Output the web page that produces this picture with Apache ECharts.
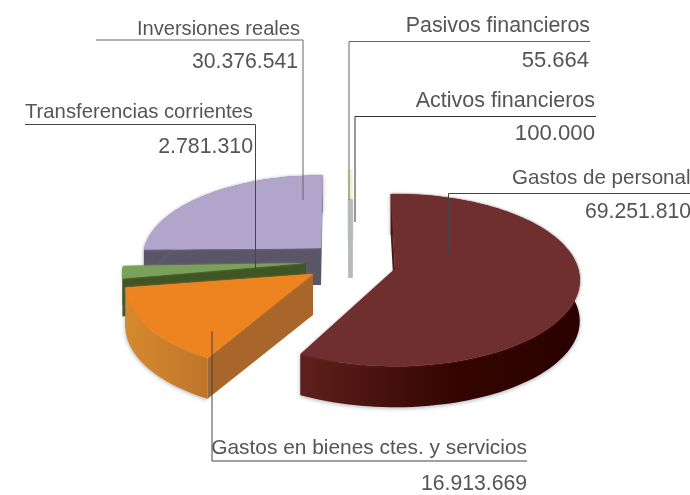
<!DOCTYPE html>
<html><head><meta charset="utf-8">
<style>html,body{margin:0;padding:0;background:#fff}#c{width:690px;height:495px}</style>
<script src="https://cdn.jsdelivr.net/npm/echarts@6/dist/echarts.min.js"></script>
</head><body><div id="c"></div>
<script>
const categories = ['Gastos de personal','Gastos en bienes ctes. y servicios','Transferencias corrientes','Inversiones reales','Pasivos financieros','Activos financieros'];
const values = [69251810,16913669,2781310,30376541,55664,100000];

// drawing layout, per slice (apex position of the exploded slice, etc.)
const RX = 186, A = 86, K = 0.131;
const sliceLayout = [
  {cx:395,cy:269,s:0.985,d:41,rot:-1.5,z:60,top:'#6f2f2e',cut:'#4a1512',side:[[0,'#5e201c'],[0.55,'#340500'],[1,'#2a0200']],sx:[302,580],blur:'#6f2f2e'},
  {cx:313,cy:274,s:1,d:41,rot:1.5,z:50,top:'#ed8420',cut:'#a9662a',side:[[0,'#d5892e'],[1,'#bd7429']],sx:[128,214],blur:'#ed8420'},
  {cx:306,cy:263,s:0.98,d:38,rot:0,z:40,top:'#7ba05a',cut:'#3f5523',side:[[0,'#3f5523'],[1,'#3f5523']],sx:[120,130],blur:'#7ba05a'},
  {cx:321,cy:248,s:0.95,d:37,rot:1,z:10,top:'#b2a5cb',cut:'#5a5668',side:[[0,'#5a5668'],[1,'#5a5668']],sx:[140,325],blur:'#b2a5cb'},
  {cx:351,cy:245,s:0.96,d:0,rot:0,z:20,top:'#f1f1d0',cut:'#f1f1d0',side:[[0,'#f1f1d0'],[1,'#f1f1d0']],sx:[345,355],thin:4,blur:'#f1f1d0'},
  {cx:350.5,cy:240,s:0.48,d:38,rot:0,z:25,top:'#b4bcb8',cut:'#b4bcb8',side:[[0,'#b4bcb8'],[1,'#b4bcb8']],sx:[345,355],thin:4,blur:'#b4bcb8'}
];
// leader lines and label anchors: [x, y, align, font size]
const leaders = [
  {pts:[[690,193.5],[448.5,193.5],[448.5,253]],name:[512,178,'left',20.6],val:[585,212,'left',21.2],c:'#444'},
  {pts:[[527,461],[212,461],[212,331]],name:[527,448,'right',20.9],val:[527,484,'right',21.2],c:'#444'},
  {pts:[[25,124.5],[255.5,124.5],[255.5,269]],name:[253,112,'right',20.3],val:[253,147,'right',21.3],c:'#444'},
  {pts:[[96,40],[303,40],[303,200]],name:[300,29,'right',20.1],val:[298,62,'right',21.2],c:'#666'},
  {pts:[[590,41.5],[349,41.5],[349,200]],name:[590,26,'right',21.4],val:[589,61,'right',22],c:'#666'},
  {pts:[[596,116.5],[355,116.5],[355,222]],name:[595,101,'right',21.5],val:[595,134,'right',22.2],c:'#333'}
];
const fmt = v => String(v).replace(/\B(?=(\d{3})+$)/g,'.');
const total = values.reduce((a,b)=>a+b,0);
const starts = []; values.reduce((acc,v,i)=>{starts[i]=acc;return acc+v;},0);

function project(L,deg,r){
  const t=(deg+L.rot)*Math.PI/180, u=r*L.s*Math.sin(t), v=-r*L.s*Math.cos(t), den=1-K*v;
  return [L.cx+u*RX/den, L.cy+v*A/den];
}
function renderSlice(params,api){
  const i=params.dataIndex, L=sliceLayout[i];
  const a0=api.value(1)/total*360, a1=a0+api.value(0)/total*360;
  const n=Math.max(2,Math.ceil((a1-a0)/2)), arc=[];
  for(let k=0;k<=n;k++) arc.push(project(L,a0+(a1-a0)*k/n,1));
  const apex=project(L,0,0), d=L.d;
  const down=p=>[p[0],p[1]+d];
  const ch=[];
  const poly=(points,fill,z,stroke,lw,blur)=>ch.push({type:'polygon',z2:L.z+z,shape:{points},style:{fill,stroke:stroke||null,lineWidth:lw||0,shadowBlur:blur?2:0,shadowColor:blur||'transparent'}});
  if(d>0){
    poly([apex,arc[0],down(arc[0]),down(apex)],L.cut,0,L.thin?L.cut:null,L.thin||0);
    poly([apex,arc[n],down(arc[n]),down(apex)],L.cut,0,L.thin?L.cut:null,L.thin||0);
    if(L.thin){
      poly([apex,down(apex)],L.cut,0,L.cut,L.thin);
    } else {
      const front=arc.concat(arc.slice().reverse().map(down));
      const g=new echarts.graphic.LinearGradient(L.sx[0],0,L.sx[1],0,L.side.map(s=>({offset:s[0],color:s[1]})),true);
      ch.push({type:'polygon',z2:L.z+1,shape:{points:front},style:{fill:g,shadowBlur:4,shadowColor:'rgba(90,110,130,0.55)',shadowOffsetY:1}});
    }
  }
  poly([apex].concat(arc),L.top,2,L.thin?L.top:null,L.thin||0,L.blur);
  return {type:'group',children:ch};
}
function renderLeader(params,api){
  const i=params.dataIndex, L=leaders[i], ch=[];
  ch.push({type:'polyline',z2:100,shape:{points:L.pts},style:{fill:null,stroke:L.c,lineWidth:1}});
  const font=s=>s+'px "Liberation Sans", sans-serif';
  ch.push({type:'text',z2:101,style:{x:L.name[0],y:L.name[1],text:categories[i],align:L.name[2],verticalAlign:'middle',font:font(L.name[3]),fill:'#555'}});
  ch.push({type:'text',z2:101,style:{x:L.val[0],y:L.val[1],text:fmt(api.value(0)),align:L.val[2],verticalAlign:'middle',font:font(L.val[3]),fill:'#555'}});
  return {type:'group',children:ch};
}
const chart=echarts.init(document.getElementById('c'),null,{renderer:'canvas'});
const sliceData=categories.map((name,i)=>({name,value:[values[i],starts[i]]}));
chart.setOption({
  animation:false,backgroundColor:'#fff',
  series:[
    {type:'custom',coordinateSystem:'none',renderItem:renderSlice,data:sliceData,silent:true,clip:false,z:1},
    {type:'custom',coordinateSystem:'none',renderItem:renderLeader,data:sliceData,silent:true,clip:false,z:2}
  ]
});
</script></body></html>
